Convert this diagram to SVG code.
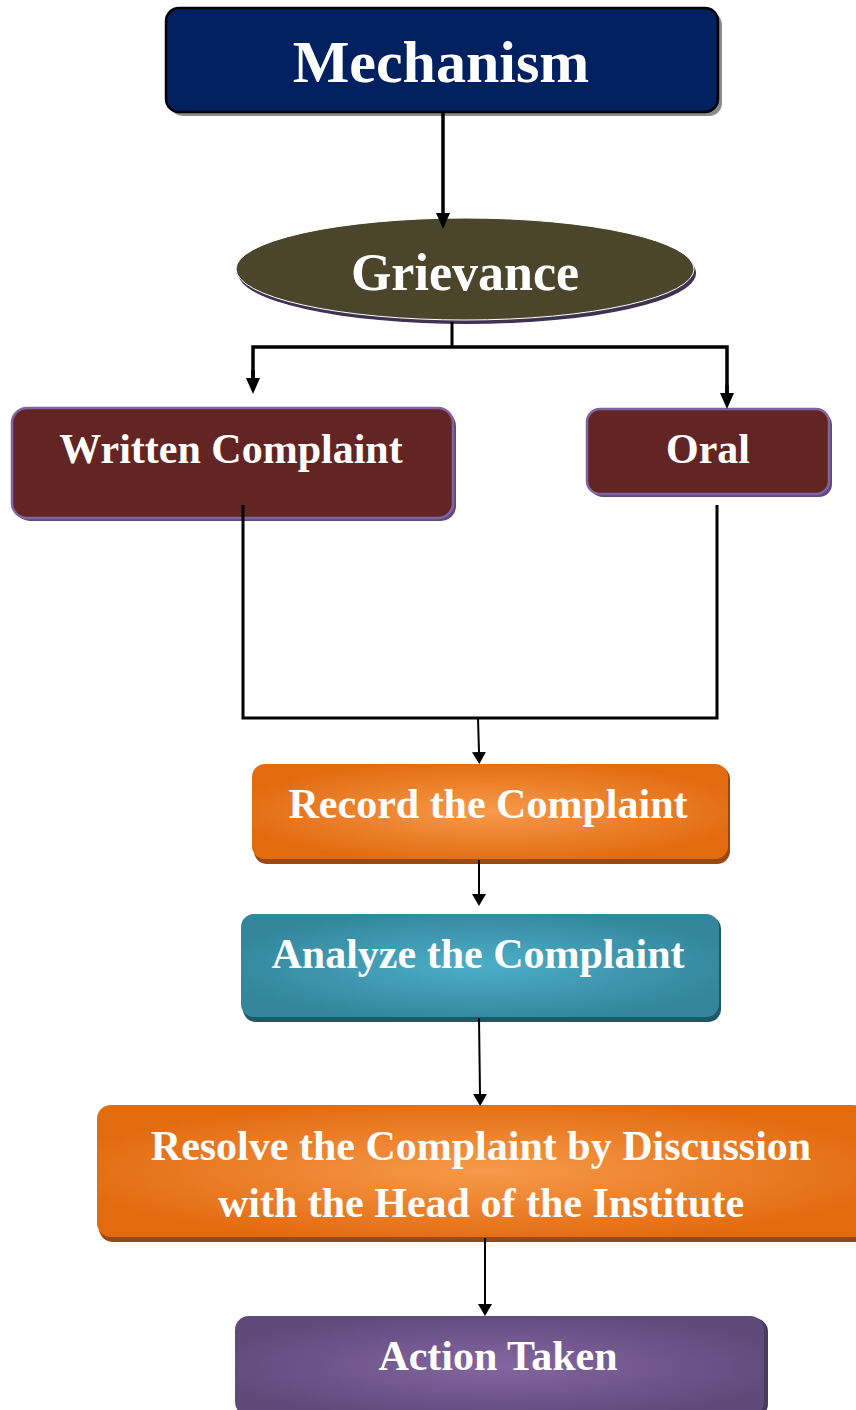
<svg xmlns="http://www.w3.org/2000/svg" width="856" height="1410" viewBox="0 0 856 1410">
<style>
.t{font-family:"Liberation Serif","Times New Roman",serif;font-weight:bold;fill:#fff;text-anchor:middle}
.c{stroke:#000;fill:none}
</style>
<defs>
<marker id="arr" viewBox="0 0 12 14" refX="0" refY="7" markerWidth="12" markerHeight="14" markerUnits="userSpaceOnUse" orient="auto"><path d="M0,0 L12,7 L0,14 z" fill="#000"/></marker>
<marker id="arrB" viewBox="0 0 16 14" refX="0" refY="7" markerWidth="16" markerHeight="14" markerUnits="userSpaceOnUse" orient="auto"><path d="M0,0 L16,7 L0,14 z" fill="#000"/></marker>
<radialGradient id="gOr" cx="50%" cy="50%" r="55%"><stop offset="0" stop-color="#F79A4A"/><stop offset="1" stop-color="#E26B10"/></radialGradient>
<radialGradient id="gTe" cx="50%" cy="50%" r="55%"><stop offset="0" stop-color="#4DAEC8"/><stop offset="1" stop-color="#33869C"/></radialGradient>
<radialGradient id="gPu" cx="50%" cy="50%" r="55%"><stop offset="0" stop-color="#8466A2"/><stop offset="1" stop-color="#5F4A7A"/></radialGradient>
</defs>

<g id="mechanism">
<rect x="170" y="12" width="552" height="104" rx="13" fill="#8c8c8c"/>
<rect x="166" y="8" width="552" height="104" rx="13" fill="#002060" stroke="#000" stroke-width="2.5"/>
<text class="t" x="441" y="82" font-size="60">Mechanism</text>
</g>

<g id="grievance">
<ellipse cx="467" cy="273" rx="229" ry="51" fill="#3F3151"/>
<ellipse cx="465" cy="269" rx="229" ry="51" fill="#4A452B" stroke="#fff" stroke-width="1"/>
<text class="t" x="465" y="290" font-size="52">Grievance</text>
</g>

<g id="written">
<rect x="15" y="411" width="441" height="110" rx="15" fill="#604A7B"/>
<rect x="12" y="408" width="441" height="110" rx="15" fill="#632523" stroke="#8064A2" stroke-width="2.5"/>
<text class="t" x="231" y="463" font-size="42">Written Complaint</text>
</g>

<g id="oral">
<rect x="590" y="412" width="242" height="85" rx="13" fill="#604A7B"/>
<rect x="587" y="409" width="242" height="85" rx="13" fill="#632523" stroke="#8064A2" stroke-width="2.5"/>
<text class="t" x="708" y="463" font-size="42">Oral</text>
</g>

<g id="record">
<rect x="254" y="766" width="476" height="98" rx="13" fill="#9A4A10"/>
<rect x="252" y="764" width="476" height="95" rx="13" fill="url(#gOr)"/>
<text class="t" x="488" y="818" font-size="42">Record the Complaint</text>
</g>

<g id="analyze">
<rect x="243" y="916" width="478" height="106" rx="13" fill="#205867"/>
<rect x="241" y="914" width="478" height="103" rx="13" fill="url(#gTe)"/>
<text class="t" x="478" y="968" font-size="42">Analyze the Complaint</text>
</g>

<g id="resolve">
<rect x="99" y="1107" width="770" height="135" rx="14" fill="#9A4A10"/>
<rect x="97" y="1105" width="770" height="132" rx="14" fill="url(#gOr)"/>
<text class="t" x="481" y="1160" font-size="42">Resolve the Complaint by Discussion</text>
<text class="t" x="481" y="1217" font-size="42">with the Head of the Institute</text>
</g>

<g id="action">
<rect x="237" y="1318" width="531" height="100" rx="14" fill="#4A3A60"/>
<rect x="235" y="1316" width="529" height="100" rx="14" fill="url(#gPu)"/>
<text class="t" x="498" y="1370" font-size="42">Action Taken</text>
</g>

<g id="connectors">
<line class="c" x1="443" y1="112" x2="443" y2="213" stroke-width="3.5" marker-end="url(#arrB)"/>
<line class="c" x1="452" y1="322" x2="452" y2="347" stroke-width="3"/>
<polyline class="c" points="253,378 253,347 727,347 727,393" stroke-width="3.5" stroke-linejoin="miter"/>
<line class="c" x1="253" y1="370" x2="253" y2="378" stroke-width="3.5" marker-end="url(#arrB)"/>
<line class="c" x1="727" y1="385" x2="727" y2="393" stroke-width="3.5" marker-end="url(#arrB)"/>
<polyline class="c" points="243,505 243,718 717,718 717,505" stroke-width="3"/>
<line class="c" x1="478" y1="718" x2="479" y2="752" stroke-width="2" marker-end="url(#arr)"/>
<line class="c" x1="479" y1="860" x2="479" y2="894" stroke-width="2" marker-end="url(#arr)"/>
<line class="c" x1="479" y1="1018" x2="480" y2="1094" stroke-width="2" marker-end="url(#arr)"/>
<line class="c" x1="485" y1="1238" x2="485" y2="1304" stroke-width="2" marker-end="url(#arr)"/>
</g>
</svg>
